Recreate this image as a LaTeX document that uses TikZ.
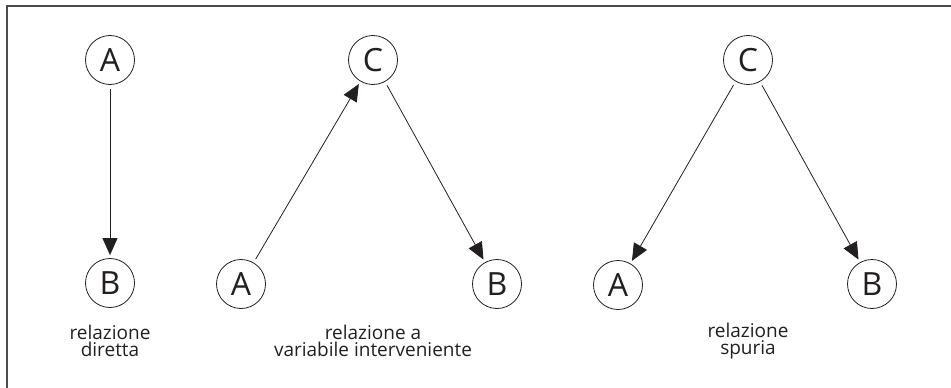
\documentclass[tikz,border=0pt]{standalone}
\usepackage{fontspec}
\setmainfont{Open Sans}
\usetikzlibrary{arrows.meta}
\definecolor{ink}{HTML}{231F20}
\begin{document}
\begin{tikzpicture}[x=1pt,y=-1pt,
  var/.style={circle,draw=ink,line width=0.8pt,minimum size=49pt,inner sep=0pt,
              text=ink,font=\fontsize{32}{32}\selectfont},
  caption/.style={align=center,text=ink,font=\fontsize{19}{17.5}\selectfont},
  arr/.style={-{Triangle[length=17pt,width=15pt]},draw=ink,line width=0.8pt,
              shorten <=4pt,shorten >=3pt}]
\useasboundingbox (0,0) rectangle (951,388);
\draw[line width=2pt,draw=black!70] (7,389) -- (7,6) -- (952,6);
% diretta
\node[var] (a1) at (110,60) {A};
\node[var] (b1) at (110,283) {B};
\draw[arr] (a1) -- (b1);
\node[caption] (l1) at (110,341) {relazione\\diretta};
% interveniente
\node[var] (c2) at (373,60) {C};
\node[var] (a2) at (241,284) {A};
\node[var] (b2) at (497,284) {B};
\draw[arr] (a2) -- (c2);
\draw[arr] (c2) -- (b2);
\node[caption] (l2) at (373,341) {relazione a\\variabile interveniente};
% spuria
\node[var] (c3) at (748,60) {C};
\node[var] (a3) at (618,285) {A};
\node[var] (b3) at (872,284) {B};
\draw[arr] (c3) -- (a3);
\draw[arr] (c3) -- (b3);
\node[caption] (l3) at (748,341) {relazione\\spuria};
\end{tikzpicture}
\end{document}
